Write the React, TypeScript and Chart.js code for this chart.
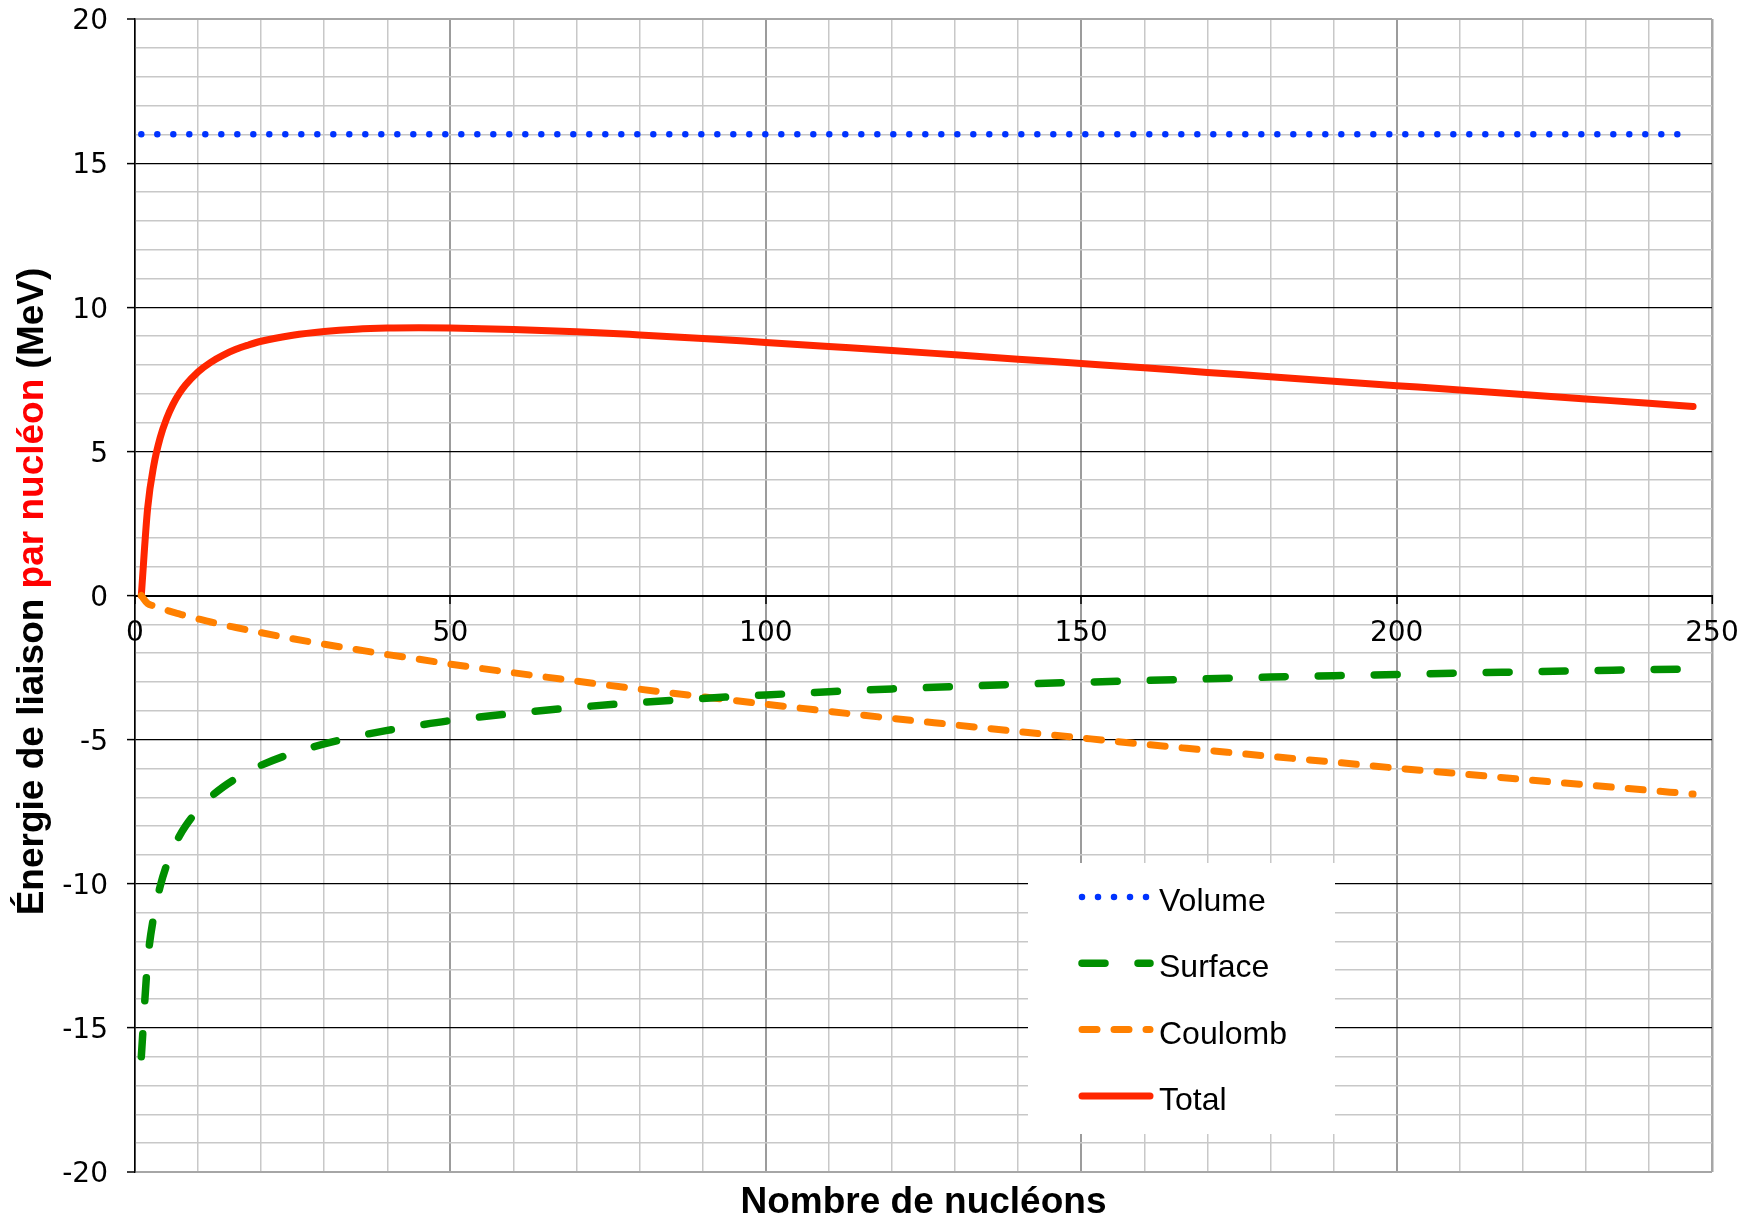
import React, { useEffect, useRef } from 'react';
import { Chart, registerables } from 'chart.js';

Chart.register(...registerables);

// Mass number A (nombre de nucléons)
const massNumbers = [1, 2, 3, 4, 5, 6, 7, 8, 10, 12, 14, 16, 18, 20, 25, 30, 35, 40, 45, 50, 60, 70, 80, 90, 100, 110, 120, 130, 140, 150, 160, 170, 180, 190, 200, 210, 220, 230, 240, 247];

const volumeValues = [16, 16, 16, 16, 16, 16, 16, 16, 16, 16, 16, 16, 16, 16, 16, 16, 16, 16, 16, 16, 16, 16, 16, 16, 16, 16, 16, 16, 16, 16, 16, 16, 16, 16, 16, 16, 16, 16, 16, 16];

const surfaceValues = [-16.0, -12.7, -11.09, -10.08, -9.36, -8.81, -8.36, -8.0, -7.43, -6.99, -6.64, -6.35, -6.11, -5.89, -5.47, -5.15, -4.89, -4.68, -4.5, -4.34, -4.09, -3.88, -3.71, -3.57, -3.45, -3.34, -3.24, -3.16, -3.08, -3.01, -2.95, -2.89, -2.83, -2.78, -2.74, -2.69, -2.65, -2.61, -2.57, -2.55];

const coulombValues = [0.0, -0.28, -0.36, -0.44, -0.51, -0.58, -0.64, -0.7, -0.81, -0.92, -1.02, -1.11, -1.2, -1.29, -1.5, -1.69, -1.87, -2.05, -2.21, -2.38, -2.68, -2.97, -3.25, -3.51, -3.77, -4.02, -4.26, -4.49, -4.72, -4.94, -5.16, -5.37, -5.58, -5.78, -5.99, -6.18, -6.38, -6.57, -6.76, -6.89];

const totalValues = [0.0, 3.02, 4.54, 5.48, 6.13, 6.62, 7.0, 7.3, 7.76, 8.09, 8.34, 8.54, 8.69, 8.82, 9.03, 9.16, 9.24, 9.28, 9.29, 9.28, 9.23, 9.15, 9.04, 8.92, 8.78, 8.64, 8.5, 8.35, 8.2, 8.05, 7.9, 7.74, 7.59, 7.43, 7.28, 7.13, 6.97, 6.82, 6.67, 6.56];

const seriesLabels = ['Volume', 'Surface', 'Coulomb', 'Total'];

const xMin = 0;
const xMax = 250;
const xStep = 10;
const xMajor = 50;
const yMin = -20;
const yMax = 20;
const yStep = 1;
const yMajor = 5;

const yTitleParts = [
  { text: 'Énergie de liaison ', color: '#000000' },
  { text: 'par nucléon', color: '#ff0000' },
  { text: ' (MeV)', color: '#000000' },
];
const xTitle = 'Nombre de nucléons';

const toPoints = (ys: number[]) => massNumbers.map((a, i) => ({ x: a, y: ys[i] }));

const decorPlugin = {
  id: 'decor',
  afterDraw(chart: any) {
    const ctx = chart.ctx as CanvasRenderingContext2D;
    const area = chart.chartArea;
    ctx.save();

    // Legend box
    const lx = 1028;
    const ly = 863;
    ctx.fillStyle = '#ffffff';
    ctx.fillRect(lx, ly, 307, 271);
    chart.data.datasets.forEach((ds: any, i: number) => {
      const y = 897 + i * 66.3;
      ctx.beginPath();
      ctx.strokeStyle = ds.borderColor;
      ctx.lineWidth = ds.borderWidth;
      ctx.lineCap = 'round';
      ctx.setLineDash(ds.borderDash || []);
      ctx.moveTo(1082, y);
      ctx.lineTo(1150, y);
      ctx.stroke();
      ctx.setLineDash([]);
      ctx.fillStyle = '#000000';
      ctx.font = '32px "Liberation Sans", Arial, sans-serif';
      ctx.textAlign = 'left';
      ctx.textBaseline = 'alphabetic';
      ctx.fillText(ds.label, 1159, y + 14);
    });

    // Y title (rotated, mixed colours)
    ctx.font = 'bold 37px "Liberation Sans", Arial, sans-serif';
    const widths = yTitleParts.map((p) => ctx.measureText(p.text).width);
    const total = widths.reduce((s, w) => s + w, 0);
    ctx.translate(43, (area.top + area.bottom) / 2 - 4);
    ctx.rotate(-Math.PI / 2);
    ctx.textAlign = 'left';
    ctx.textBaseline = 'alphabetic';
    let pos = -total / 2;
    yTitleParts.forEach((p, i) => {
      ctx.fillStyle = p.color;
      ctx.fillText(p.text, pos, 0);
      pos += widths[i];
    });
    ctx.setTransform(1, 0, 0, 1, 0, 0);

    // X title
    ctx.font = 'bold 37px "Liberation Sans", Arial, sans-serif';
    ctx.fillStyle = '#000000';
    ctx.textAlign = 'center';
    ctx.textBaseline = 'alphabetic';
    ctx.fillText(xTitle, (area.left + area.right) / 2, 1213);

    ctx.restore();
  },
};

export default function App() {
  const canvasRef = useRef<HTMLCanvasElement | null>(null);

  useEffect(() => {
    if (!canvasRef.current) return;
    const chart = new Chart(canvasRef.current, {
      type: 'line',
      data: {
        datasets: [
          {
            label: seriesLabels[0],
            data: toPoints(volumeValues),
            borderColor: '#0033ff',
            borderWidth: 6.5,
            borderDash: [0, 16],
            borderCapStyle: 'round',
            pointRadius: 0,
            fill: false,
          },
          {
            label: seriesLabels[1],
            data: toPoints(surfaceValues),
            borderColor: '#008f00',
            borderWidth: 7.5,
            borderDash: [23, 33],
            borderCapStyle: 'round',
            cubicInterpolationMode: 'monotone',
            pointRadius: 0,
            fill: false,
          },
          {
            label: seriesLabels[2],
            data: toPoints(coulombValues),
            borderColor: '#ff8000',
            borderWidth: 7,
            borderDash: [15, 17],
            borderCapStyle: 'round',
            cubicInterpolationMode: 'monotone',
            pointRadius: 0,
            fill: false,
          },
          {
            label: seriesLabels[3],
            data: toPoints(totalValues),
            borderColor: '#ff2600',
            borderWidth: 7,
            borderCapStyle: 'round',
            borderJoinStyle: 'round',
            cubicInterpolationMode: 'monotone',
            pointRadius: 0,
            fill: false,
          },
        ] as any,
      },
      options: {
        animation: false,
        responsive: false,
        maintainAspectRatio: false,
        layout: { padding: { top: 19, right: 47, bottom: 51, left: 0 } },
        plugins: {
          legend: { display: false },
          tooltip: { enabled: false },
        },
        scales: {
          x: {
            type: 'linear',
            position: { y: 0 } as any,
            min: xMin,
            max: xMax,
            afterFit: (scale: any) => {
              scale.paddingLeft = 0;
              scale.paddingRight = 0;
              scale.paddingTop = 0;
              scale.paddingBottom = 0;
            },
            ticks: {
              stepSize: xStep,
              autoSkip: false,
              maxRotation: 0,
              maxTicksLimit: 100,
              padding: 14,
              color: '#000000',
              font: { family: '"DejaVu Sans", Verdana, sans-serif', size: 28 },
              callback: (v: any) => (Number(v) % xMajor === 0 ? String(v) : ''),
            },
            grid: {
              color: (c: any) => {
                const v = c.tick?.value;
                if (v === xMax) return '#a6a6a6';
                if (v % xMajor === 0) return '#9c9c9c';
                return '#c8c8c8';
              },
              lineWidth: (c: any) => {
                const v = c.tick?.value;
                if (v === xMax) return 2.5;
                if (v % xMajor === 0) return 2;
                return 1.5;
              },
              tickColor: (c: any) => (c.tick?.value % xMajor === 0 ? '#000000' : 'rgba(0,0,0,0)'),
              tickLength: 7,
              tickWidth: 1.5,
            },
            border: { display: true, color: '#000000', width: 2 },
          },
          y: {
            type: 'linear',
            position: 'left',
            min: yMin,
            max: yMax,
            afterFit: (scale: any) => {
              scale.width = 135;
              scale.paddingTop = 0;
              scale.paddingBottom = 0;
            },
            ticks: {
              stepSize: yStep,
              autoSkip: false,
              maxTicksLimit: 100,
              padding: 19,
              labelOffset: 3,
              color: '#000000',
              font: { family: '"DejaVu Sans", Verdana, sans-serif', size: 28 },
              callback: (v: any) => (Number(v) % yMajor === 0 ? String(v) : ''),
            },
            grid: {
              color: (c: any) => {
                const v = c.tick?.value;
                if (v === yMax || v === yMin) return '#a6a6a6';
                if (v % yMajor === 0) return '#000000';
                return '#c8c8c8';
              },
              lineWidth: (c: any) => {
                const v = c.tick?.value;
                if (v === yMax || v === yMin) return 2;
                if (v % yMajor === 0) return 1.2;
                return 1.5;
              },
              tickColor: (c: any) => (c.tick?.value % yMajor === 0 ? '#000000' : 'rgba(0,0,0,0)'),
              tickLength: 8,
              tickWidth: 1.5,
            },
            border: { display: true, color: '#000000', width: 1.5 },
          },
        },
      },
      plugins: [decorPlugin],
    });
    return () => chart.destroy();
  }, []);

  return (
    <div style={{ position: 'absolute', left: 0, top: 0, width: 1759, height: 1223, background: '#ffffff' }}>
      <canvas ref={canvasRef} width={1759} height={1223} style={{ display: 'block' }} />
    </div>
  );
}
